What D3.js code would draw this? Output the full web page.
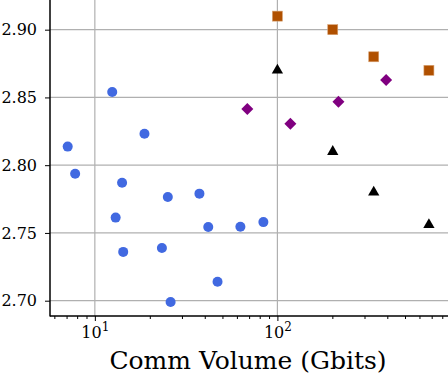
<!DOCTYPE html>
<html>
<head>
<meta charset="utf-8">
<script src="https://cdn.jsdelivr.net/npm/d3@7/dist/d3.min.js"></script>
<style>
  body { margin: 0; background: #fff; }
  svg text { font-family: "DejaVu Serif", serif !important; fill: #000; }
</style>
</head>
<body>
<svg width="448" height="376"></svg>
<script>
// blue circles
const blueX = [7.1, 7.8, 12.45, 18.7, 14.1, 13.0, 25.1, 37.4, 41.8, 14.3, 23.3, 47.0, 26.0, 62.7, 83.8];
const blueY = [2.8137, 2.7937, 2.854, 2.8232, 2.787, 2.7613, 2.7765, 2.779, 2.7544, 2.736, 2.7389, 2.714, 2.699, 2.7546, 2.758];
// orange squares
const orangeX = [100, 201, 337, 676];
const orangeY = [2.910, 2.900, 2.880, 2.870];
// black triangles
const blackX = [100, 201, 337, 676];
const blackY = [2.870, 2.810, 2.780, 2.756];
// purple diamonds
const purpleX = [68.4, 117.8, 216, 394];
const purpleY = [2.8415, 2.8306, 2.8469, 2.8629];

const yTicks = [2.70, 2.75, 2.80, 2.85, 2.90];
const xTicks = [10, 100];

(function () {
const svg = d3.select('svg');
const left = 50, right = 448, plotTop = 0, bottom = 316;

const x = d3.scaleLog().domain([5.68, 860]).range([left, right]);
const y = d3.scaleLinear().domain([2.6887, 2.9219]).range([bottom, plotTop]);

// grid
svg.append('g').selectAll('line').data(yTicks).join('line')
  .attr('x1', left).attr('x2', right)
  .attr('y1', d => y(d)).attr('y2', d => y(d))
  .attr('stroke', '#b0b0b0').attr('stroke-width', 1.2);
svg.append('g').selectAll('line').data(xTicks).join('line')
  .attr('x1', d => x(d)).attr('x2', d => x(d))
  .attr('y1', plotTop).attr('y2', bottom)
  .attr('stroke', '#b0b0b0').attr('stroke-width', 1.2);

// axes
const yAxis = d3.axisLeft(y).tickValues(yTicks).tickFormat(d3.format('.2f'))
  .tickSize(5).tickPadding(8);
const gy = svg.append('g').attr('transform', `translate(${left},0)`).call(yAxis);
gy.attr('font-family', null);
gy.selectAll('text').attr('font-size', 16);
gy.select('.domain').remove();

const minor = [];
[1, 10, 100].forEach(dec => { for (let k = 2; k <= 9; k++) minor.push(dec * k); });
const xMinor = minor.filter(v => v > 5.68 && v < 860);
const gxm = svg.append('g').attr('transform', `translate(0,${bottom})`)
  .call(d3.axisBottom(x).tickValues(xMinor).tickSize(3).tickFormat(''));
gxm.select('.domain').remove();

const gx = svg.append('g').attr('transform', `translate(0,${bottom})`)
  .call(d3.axisBottom(x).tickValues(xTicks).tickSize(5).tickFormat(''));
gx.attr('font-family', null);
gx.select('.domain').remove();
gx.selectAll('.tick').append('text')
  .attr('y', 22).attr('text-anchor', 'middle').attr('font-size', 16)
  .each(function(d) {
    const t = d3.select(this);
    t.append('tspan').text('10');
    t.append('tspan').attr('dy', -7).attr('font-size', 12).text(Math.round(Math.log10(d)));
  });

svg.selectAll('.tick line').attr('stroke', '#000').attr('stroke-width', 1);

// spines
svg.append('line').attr('x1', left).attr('x2', left).attr('y1', plotTop).attr('y2', bottom + 0.5)
  .attr('stroke', '#000').attr('stroke-width', 1.5);
svg.append('line').attr('x1', left).attr('x2', right).attr('y1', bottom).attr('y2', bottom)
  .attr('stroke', '#000').attr('stroke-width', 1.5);

// axis title
svg.append('text').attr('x', 248).attr('y', 369).attr('text-anchor', 'middle')
  .attr('font-size', 25).text('Comm Volume (Gbits)');

// marks
const marks = svg.append('g');
marks.selectAll('.blue').data(d3.range(blueX.length)).join('circle')
  .attr('cx', i => x(blueX[i])).attr('cy', i => y(blueY[i])).attr('r', 5)
  .attr('fill', '#4169e1');
marks.selectAll('.orange').data(d3.range(orangeX.length)).join('rect')
  .attr('x', i => x(orangeX[i]) - 5).attr('y', i => y(orangeY[i]) - 5)
  .attr('width', 10).attr('height', 10)
  .attr('fill', '#b05000').attr('stroke', '#d8a070').attr('stroke-width', 0.6);
const tri = d3.symbol().type(d3.symbolTriangle).size(55);
marks.selectAll('.black').data(d3.range(blackX.length)).join('path')
  .attr('d', tri).attr('transform', i => `translate(${x(blackX[i])},${y(blackY[i])})`)
  .attr('fill', '#000');
const dia = d3.symbol().type(d3.symbolSquare).size(72);
marks.selectAll('.purple').data(d3.range(purpleX.length)).join('path')
  .attr('d', dia).attr('transform', i => `translate(${x(purpleX[i])},${y(purpleY[i])}) rotate(45)`)
  .attr('fill', '#800080');
})();
</script>
</body>
</html>
